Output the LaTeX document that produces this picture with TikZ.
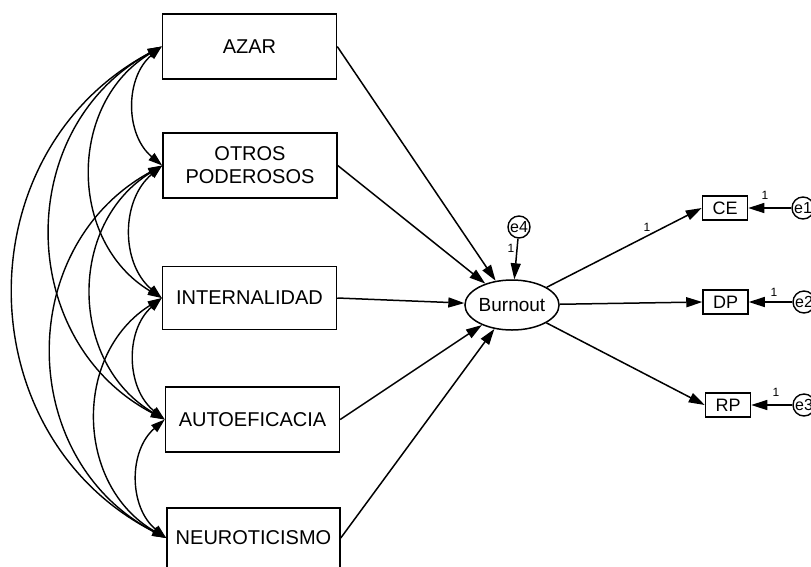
\documentclass[tikz,border=0pt]{standalone}
\usepackage{fontspec}
\setmainfont{Liberation Sans}
\usetikzlibrary{arrows.meta,shapes.geometric}
\begin{document}
\begin{tikzpicture}[x=1pt,y=-1pt,
 box/.style={draw, line width=1.5pt, fill=white, font=\fontsize{20}{23}\selectfont, align=center, inner sep=0pt, minimum width=174pt, minimum height=65pt},
 obs/.style={draw, line width=1.5pt, minimum width=45pt, minimum height=24pt, inner sep=0pt, font=\fontsize{18}{20}\selectfont},
 err/.style={draw, circle, line width=1.4pt, minimum size=22pt, inner sep=0pt, font=\fontsize{16}{16}\selectfont},
 reg/.style={line width=1.5pt, -{Triangle[length=16pt,width=10pt]}},
 cov/.style={line width=1.4pt, {Triangle[length=14pt,width=9pt]}-{Triangle[length=14pt,width=9pt]}},
 wt/.style={font=\fontsize{12}{12}\selectfont, inner sep=0pt}
]
\fill[white] (0,0) rectangle (811,566);
\useasboundingbox (0,0) rectangle (811,566);

% exogenous boxes
\node[box] (azar)  at (249.5,46.5) {AZAR};
\node[box] (otros) at (250,165.5) {OTROS\\PODEROSOS};
\node[box, minimum height=63pt] (inter) at (249.5,298) {INTERNALIDAD};
\node[box] (auto)  at (252.5,419.5) {AUTOEFICACIA};
\node[box, minimum width=173pt, minimum height=60pt] (neuro) at (253.5,538) {NEUROTICISMO};

% latent
\node[draw, ellipse, line width=1.5pt, minimum width=90pt, minimum height=50pt, inner sep=0pt, font=\fontsize{19}{19}\selectfont] (burn) at (512,305) {Burnout};
\node[err] (e4) at (519,227) {e4};

% indicators
\node[obs] (ce) at (725,208) {CE};
\node[obs] (dp) at (725.5,302) {DP};
\node[obs] (rp) at (728,405) {RP};
\node[err] (e1) at (803,208) {e1};
\node[err] (e2) at (804,302) {e2};
\node[err] (e3) at (804,405) {e3};

% regressions
\draw[reg] (azar.east) -- (burn);
\draw[reg] (otros.east) -- (burn);
\draw[reg] (inter.east) -- (burn);
\draw[reg] (auto.east) -- (burn);
\draw[reg] (neuro.east) -- (burn);
\draw[reg] (e4) -- (burn);
\draw[reg] (burn) -- (ce.west);
\draw[reg] (burn) -- (dp.west);
\draw[reg] (burn) -- (rp.west);
\draw[reg] (e1) -- (ce.east);
\draw[reg] (e2) -- (dp.east);
\draw[reg] (e3) -- (rp.east);

% weights
\node[wt] (w4) at (511,248) {1};
\node[wt] (wce) at (647,227) {1};
\node[wt] (w1) at (765,195) {1};
\node[wt] (w2) at (774,292) {1};
\node[wt] (w3) at (776,392) {1};

% covariances
\draw[cov] (azar.west)  to[bend right=50, looseness=1.04] (otros.west);
\draw[cov] (otros.west) to[bend right=50, looseness=1.04] (inter.west);
\draw[cov] (inter.west) to[bend right=50, looseness=1.04] (auto.west);
\draw[cov] (auto.west)  to[bend right=50, looseness=1.04] (neuro.west);
\draw[cov] (azar.west)  to[bend right=59, looseness=1.12] (inter.west);
\draw[cov] (otros.west) to[bend right=59, looseness=1.12] (auto.west);
\draw[cov] (inter.west) to[bend right=59, looseness=1.12] (neuro.west);
\draw[cov] (azar.west)  to[bend right=62, looseness=1.16] (auto.west);
\draw[cov] (otros.west) to[bend right=62, looseness=1.16] (neuro.west);
\draw[cov] (azar.west)  to[bend right=62.5, looseness=1.17] (neuro.west);
\end{tikzpicture}
\end{document}
